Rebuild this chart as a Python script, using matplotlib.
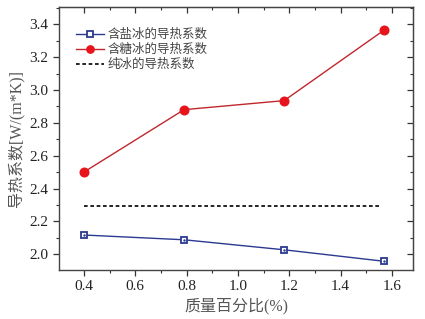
import matplotlib
matplotlib.use("Agg")
import matplotlib.pyplot as plt
from matplotlib.ticker import MultipleLocator

plt.rcParams['font.family'] = ['Liberation Serif', 'Noto Sans CJK SC']
plt.rcParams['mathtext.fontset'] = 'stix'

x = [0.4, 0.79, 1.18, 1.57]
salt = [2.117, 2.088, 2.027, 1.957]
sugar = [2.50, 2.88, 2.935, 3.365]
pure_x = [0.4, 1.55]
pure = [2.293, 2.293]

labels = ['含盐冰的导热系数', '含糖冰的导热系数', '纯冰的导热系数']
xlabel = '质量百分比(%)'
ylabel = '导热系数[W/(m*K)]'

fig = plt.figure(figsize=(4.25, 3.19), dpi=100)
ax = fig.add_axes([59/425, 1-270/319, (413-59)/425, (270-7)/319])

blue = '#2b3990'
ax.plot(x, salt, color=blue, lw=1.0, marker='s', ms=4.8, mfc='white', mec=blue, mew=1.3, label=labels[0], zorder=3)
ax.plot(x, salt, ls='none', marker='.', ms=1.5, color=blue, zorder=4)
ax.plot(x, sugar, color='#c0272d', lw=1.0, marker='o', ms=6.2, mfc='#e8141c', mec='#e8141c', label=labels[1], zorder=3)
ax.plot(pure_x, pure, color='black', lw=1.2, ls=(0, (2.2, 1.6)), label=labels[2])

ax.set_xlim(0.303, 1.682)
ax.set_ylim(1.904, 3.505)
ax.xaxis.set_major_locator(MultipleLocator(0.2))
ax.xaxis.set_minor_locator(MultipleLocator(0.1))
ax.yaxis.set_major_locator(MultipleLocator(0.2))
ax.yaxis.set_minor_locator(MultipleLocator(0.1))

tc = '#222222'
ax.tick_params(which='both', direction='out', colors='#333333', labelcolor=tc, labelsize=11)
ax.tick_params(which='major', length=4, width=0.9)
ax.tick_params(which='minor', length=2.5, width=0.8)
for s in ax.spines.values():
    s.set_color('#444444')
    s.set_linewidth(1.0)

axt = ax.secondary_xaxis('top')
axt.xaxis.set_major_locator(MultipleLocator(0.2))
axt.xaxis.set_minor_locator(MultipleLocator(0.1))
axt.tick_params(which='both', direction='in', labeltop=False, colors='#333333')
axt.tick_params(which='major', length=4, width=0.9)
axt.tick_params(which='minor', length=2.5, width=0.8)
axt.spines['top'].set_color('#444444')
axr = ax.secondary_yaxis('right')
axr.yaxis.set_major_locator(MultipleLocator(0.2))
axr.yaxis.set_minor_locator(MultipleLocator(0.1))
axr.tick_params(which='both', direction='in', labelright=False, colors='#333333')
axr.tick_params(which='major', length=4, width=0.9)
axr.tick_params(which='minor', length=2.5, width=0.8)
axr.spines['right'].set_color('#444444')

ax.set_xlabel(xlabel, fontsize=11.5, color='#555555', labelpad=3)
ax.set_ylabel(ylabel, fontsize=11.5, color='#555555', labelpad=4)

leg = ax.legend(loc='upper left', bbox_to_anchor=(0.035, 0.935), frameon=False, fontsize=9.0,
                handlelength=2.2, handletextpad=0.3, labelspacing=0.22, borderaxespad=0,
                markerscale=0.85)
for t in leg.get_texts():
    t.set_color('#444444')

fig.savefig('out.png', dpi=100)
